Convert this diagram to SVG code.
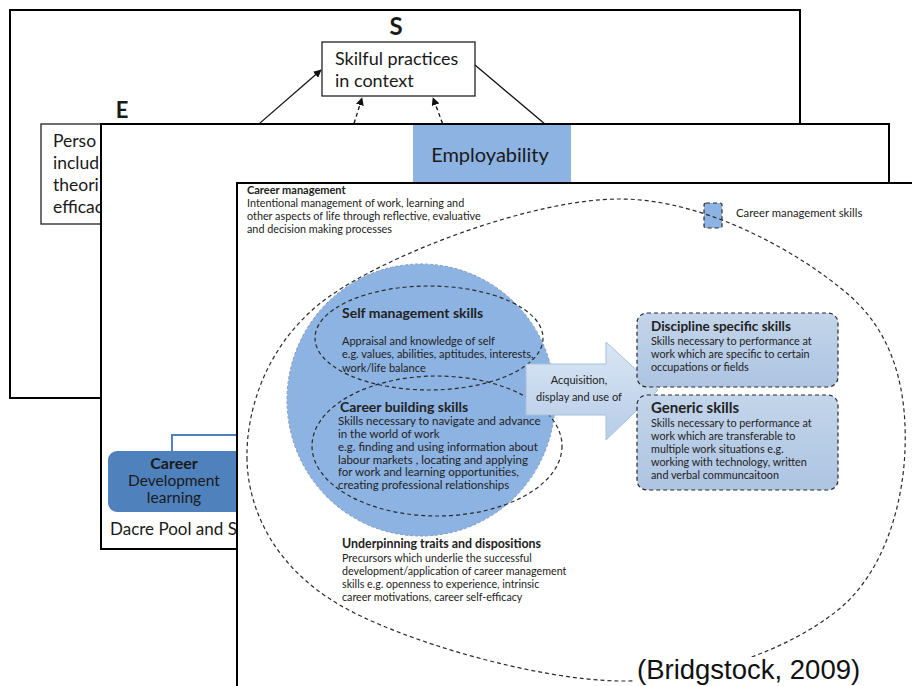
<svg xmlns="http://www.w3.org/2000/svg" width="912" height="686" viewBox="0 0 912 686">
<defs>
<style>
.frame{fill:#fff;stroke:#000;stroke-width:2}
.box{fill:#fff;stroke:#222;stroke-width:1.3}
.big{font-family:Lato,"Open Sans","Liberation Sans",sans-serif;fill:#1a1a1a}
.t{font-family:Lato,"Open Sans","Liberation Sans",sans-serif;fill:#222}
.b{font-weight:bold}
.dash{fill:none;stroke:#2a2a2a;stroke-width:1.2;stroke-dasharray:4 3}
.conn{stroke:#111;stroke-width:1.3;fill:none}
</style>
<marker id="ah" viewBox="0 0 10 10" refX="9" refY="5" markerWidth="8" markerHeight="8" orient="auto" markerUnits="userSpaceOnUse">
<path d="M0,0 L10,5 L0,10 z" fill="#111"/>
</marker>
<linearGradient id="arrowg" x1="0" y1="0" x2="0" y2="1">
<stop offset="0" stop-color="#dae6f4"/>
<stop offset="1" stop-color="#b6cce8"/>
</linearGradient>
<linearGradient id="boxg" x1="0" y1="0" x2="0" y2="1">
<stop offset="0" stop-color="#c3d5ea"/>
<stop offset="1" stop-color="#adc4e2"/>
</linearGradient>
</defs>

<g id="frame1">
<rect class="frame" x="10" y="10" width="790" height="388"/>
<text class="big b" x="396" y="35" font-size="24" text-anchor="middle">S</text>
<text class="big b" x="122" y="118" font-size="22" text-anchor="middle">E</text>
</g>
<g id="skilful">
<rect class="box" x="322" y="42" width="153" height="54"/>
<text class="big" x="335" y="65" font-size="18">Skilful practices</text>
<text class="big" x="335" y="87" font-size="18">in context</text>
</g>
<g id="personal">
<rect class="box" x="41" y="124" width="180" height="100"/>
<text class="big" x="53" y="147" font-size="17.5">Perso</text>
<text class="big" x="53" y="169" font-size="17.5">includ</text>
<text class="big" x="53" y="191" font-size="17.5">theori</text>
<text class="big" x="53" y="213" font-size="17.5">efficac</text>
</g>
<g id="connectors">
<line class="conn" x1="252" y1="130" x2="321" y2="70" marker-end="url(#ah)"/>
<line class="conn" x1="352" y1="130" x2="362" y2="98" stroke-dasharray="4 3" marker-end="url(#ah)"/>
<line class="conn" x1="445" y1="130" x2="433" y2="98" stroke-dasharray="4 3" marker-end="url(#ah)"/>
<line class="conn" x1="475" y1="65" x2="552" y2="130"/>
</g>

<g id="frame2">
<rect class="frame" x="101" y="124" width="788" height="425"/>
</g>
<g id="employability">
<rect x="413" y="125" width="158" height="60" fill="#8db3e2"/>
<text class="big" x="490" y="162" font-size="20" text-anchor="middle" fill="#2a2a2a">Employability</text>
</g>
<g id="career-dev">
<path d="M172,451 V435 H240" fill="none" stroke="#4f81bd" stroke-width="2"/>
<rect x="108" y="451" width="140" height="61" rx="9" fill="#4f81bd"/>
<text class="big b" x="174" y="469" font-size="16" text-anchor="middle" fill="#1d2f4a">Career</text>
<text class="big" x="174" y="486" font-size="15.5" text-anchor="middle" fill="#1d2f4a">Development</text>
<text class="big" x="174" y="503" font-size="15.5" text-anchor="middle" fill="#1d2f4a">learning</text>
</g>
<g id="dacre">
<text class="big" x="110" y="535" font-size="17">Dacre Pool and S</text>
</g>

<g id="frame3">
<rect class="frame" x="237" y="183" width="690" height="520" stroke-width="1.6"/>
</g>
<g id="career-management">
<text class="t b" x="247" y="194" font-size="11">Career management</text>
<text class="t" x="247" y="207" font-size="10.8">Intentional management of work, learning and</text>
<text class="t" x="247" y="220" font-size="10.8">other aspects of life through reflective, evaluative</text>
<text class="t" x="247" y="233" font-size="10.8">and decision making processes</text>
</g>
<g id="legend">
<rect x="704" y="203" width="18" height="25" rx="2" class="dash" style="fill:#8db3e2"/>
<text class="t" x="736" y="217" font-size="11.3">Career management skills</text>
</g>
<g id="outer-ellipse">
<path class="dash" d="M247,460 C245.7,408.7 267.8,339.5 330,296 C392.2,252.5 533.3,199 620,199 C706.7,199 802.5,254.2 850,296 C897.5,337.8 907,397.7 905,450 C903,502.3 885.5,571.5 838,610 C790.5,648.5 703.3,682 620,681 C536.7,680 400.2,640.8 338,604 C275.8,567.2 248.3,511.3 247,460 Z"/>
</g>
<g id="cms-circle">
<ellipse cx="421" cy="400" rx="134" ry="136" fill="#8db3e2" stroke="#7d98bd" stroke-width="1" stroke-dasharray="3 2"/>
</g>
<g id="self-management">
<ellipse class="dash" cx="429" cy="338" rx="114" ry="52"/>
<text class="t b" x="342" y="318" font-size="14">Self management skills</text>
<text class="t" x="342" y="345" font-size="11">Appraisal and knowledge of self</text>
<text class="t" x="342" y="358" font-size="11">e.g. values, abilities, aptitudes, interests,</text>
<text class="t" x="342" y="372" font-size="11">work/life balance</text>
</g>
<g id="career-building">
<ellipse class="dash" cx="437" cy="446" rx="125" ry="70"/>
<text class="t b" x="340" y="412" font-size="14">Career building skills</text>
<text class="t" x="338" y="425" font-size="11.5">Skills necessary to navigate and advance</text>
<text class="t" x="338" y="438" font-size="11.5">in the world of work</text>
<text class="t" x="338" y="451" font-size="11.5">e.g. finding and using information about</text>
<text class="t" x="338" y="464" font-size="11.5">labour markets , locating and applying</text>
<text class="t" x="338" y="476" font-size="11.5">for work and learning opportunities,</text>
<text class="t" x="338" y="489" font-size="11.5">creating professional relationships</text>
</g>
<g id="acquisition-arrow">
<path d="M526,364 H606 V342 L658,390 L606,440 V415 H526 Z" fill="url(#arrowg)" stroke="#a8bfdc" stroke-width="1"/>
<text class="t" x="579" y="384" font-size="11" text-anchor="middle">Acquisition,</text>
<text class="t" x="579" y="401" font-size="11" text-anchor="middle">display and use of</text>
</g>
<g id="discipline">
<rect x="637" y="313" width="201" height="74" rx="10" class="dash" style="fill:url(#boxg)"/>
<text class="t b" x="651" y="331" font-size="13.5">Discipline specific skills</text>
<text class="t" x="651" y="345" font-size="10.8">Skills necessary to performance at</text>
<text class="t" x="651" y="358" font-size="10.8">work which are specific to certain</text>
<text class="t" x="651" y="371" font-size="10.8">occupations or fields</text>
</g>
<g id="generic">
<rect x="637" y="395" width="201" height="95" rx="10" class="dash" style="fill:url(#boxg)"/>
<text class="t b" x="651" y="413" font-size="15">Generic skills</text>
<text class="t" x="651" y="427" font-size="10.8">Skills necessary to performance at</text>
<text class="t" x="651" y="440" font-size="10.8">work which are transferable to</text>
<text class="t" x="651" y="453" font-size="10.8">multiple work situations e.g.</text>
<text class="t" x="651" y="466" font-size="10.8">working with technology, written</text>
<text class="t" x="651" y="479" font-size="10.8">and verbal communcaitoon</text>
</g>
<g id="underpinning">
<text class="t b" x="342" y="548" font-size="12.4">Underpinning traits and dispositions</text>
<text class="t" x="342" y="562" font-size="10.7">Precursors which underlie the successful</text>
<text class="t" x="342" y="575" font-size="10.7">development/application of career management</text>
<text class="t" x="342" y="588" font-size="10.7">skills e.g. openness to experience, intrinsic</text>
<text class="t" x="342" y="601" font-size="10.7">career motivations, career self-efficacy</text>
</g>
<g id="citation">
<rect x="634" y="657" width="232" height="29" fill="#fff"/>
<text x="637" y="679" font-size="27.5" font-family="'Liberation Sans',Arial,sans-serif" fill="#111">(Bridgstock, 2009)</text>
</g>
</svg>
